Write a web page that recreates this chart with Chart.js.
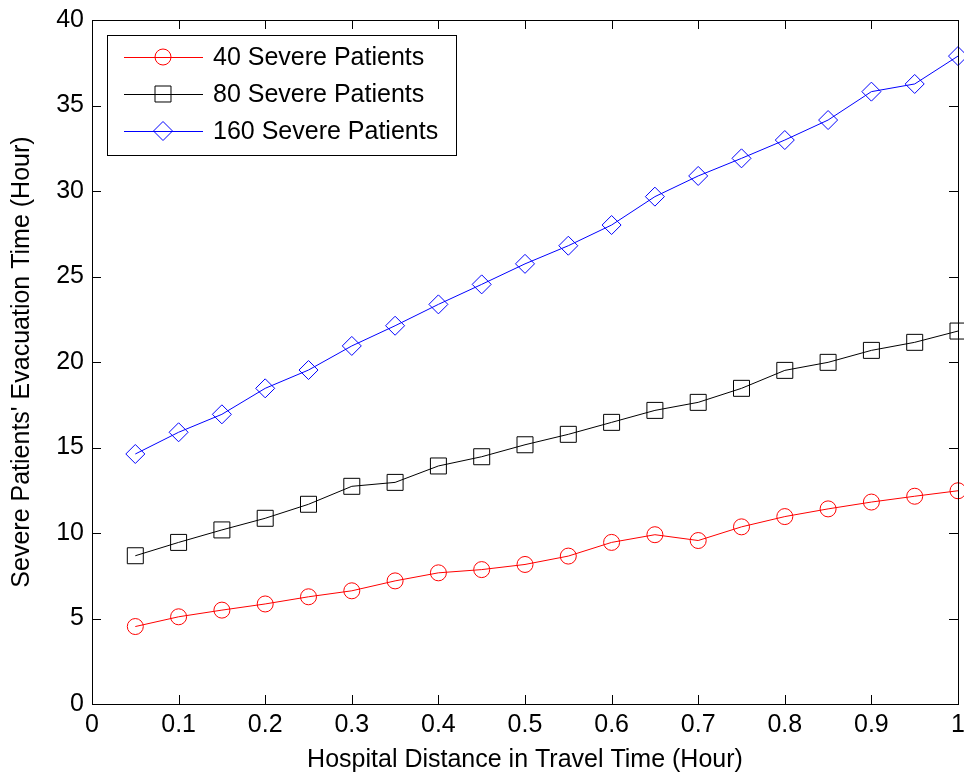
<!DOCTYPE html>
<html>
<head>
<meta charset="utf-8">
<script src="https://cdn.jsdelivr.net/npm/chart.js@4/dist/chart.umd.min.js"></script>
<style>
  html, body { margin: 0; padding: 0; background: #fff; }
  #wrap { width: 964px; height: 773px; }
</style>
</head>
<body>
<div id="wrap"><canvas id="grafico" width="964" height="773"></canvas></div>
<script>
// valores
const distancias = [0.05, 0.1, 0.15, 0.2, 0.25, 0.3, 0.35, 0.4, 0.45, 0.5,
                    0.55, 0.6, 0.65, 0.7, 0.75, 0.8, 0.85, 0.9, 0.95, 1.0];
const pacientes40 = [4.53, 5.1, 5.49, 5.85, 6.27, 6.62, 7.2, 7.67, 7.86, 8.16,
                     8.65, 9.45, 9.9, 9.56, 10.36, 10.96, 11.41, 11.81, 12.15, 12.47];
const pacientes80 = [8.67, 9.45, 10.18, 10.86, 11.68, 12.73, 12.96, 13.92, 14.46, 15.16,
                     15.77, 16.47, 17.17, 17.64, 18.46, 19.51, 19.98, 20.68, 21.15, 21.81];
const pacientes160 = [14.62, 15.89, 16.94, 18.46, 19.53, 20.94, 22.12, 23.37, 24.54, 25.74,
                      26.8, 28.01, 29.67, 30.88, 31.91, 32.98, 34.15, 35.81, 36.26, 37.89];
const rotulosX = ['0', '0.1', '0.2', '0.3', '0.4', '0.5', '0.6', '0.7', '0.8', '0.9', '1'];
const rotulosY = ['0', '5', '10', '15', '20', '25', '30', '35', '40'];
const nomesSeries = ['40 Severe Patients', '80 Severe Patients', '160 Severe Patients'];

const fonte = "'Liberation Sans', Arial, Helvetica, sans-serif";

function pontos(valores) {
  return distancias.map((d, i) => ({ x: d, y: valores[i] }));
}

function serie(nome, valores, cor, estilo, raio) {
  return {
    label: nome,
    data: pontos(valores),
    borderColor: cor,
    borderWidth: 1,
    pointStyle: estilo,
    pointRadius: raio,
    pointHoverRadius: raio,
    pointBorderColor: cor,
    pointBackgroundColor: 'rgba(0,0,0,0)',
    pointBorderWidth: 1,
    tension: 0,
    fill: false,
    clip: false
  };
}

// moldura da caixa e ticks para dentro (estilo matlab)
const caixaEixos = {
  id: 'caixaEixos',
  afterDatasetsDraw(chart) {
    const { ctx, chartArea: a, scales } = chart;
    ctx.save();
    ctx.strokeStyle = '#000';
    ctx.lineWidth = 1;
    ctx.strokeRect(a.left + 0.5, a.top + 0.5, a.right - a.left, a.bottom - a.top);
    const tam = 9;
    ctx.beginPath();
    scales.x.ticks.forEach(t => {
      const px = Math.round(scales.x.getPixelForValue(t.value)) + 0.5;
      ctx.moveTo(px, a.bottom); ctx.lineTo(px, a.bottom - tam);
      ctx.moveTo(px, a.top); ctx.lineTo(px, a.top + tam);
    });
    scales.y.ticks.forEach(t => {
      const py = Math.round(scales.y.getPixelForValue(t.value)) + 0.5;
      ctx.moveTo(a.left, py); ctx.lineTo(a.left + tam, py);
      ctx.moveTo(a.right, py); ctx.lineTo(a.right - tam, py);
    });
    ctx.stroke();
    ctx.restore();
  }
};

// legenda desenhada dentro da area do grafico
const legendaInterna = {
  id: 'legendaInterna',
  afterDraw(chart) {
    const { ctx, chartArea: a } = chart;
    const x0 = a.left + 15, y0 = a.top + 15;
    const larg = 349, alt = 120;
    ctx.save();
    ctx.fillStyle = '#fff';
    ctx.fillRect(x0, y0, larg, alt);
    ctx.strokeStyle = '#000';
    ctx.lineWidth = 1;
    ctx.strokeRect(x0 + 0.5, y0 + 0.5, larg, alt);
    chart.data.datasets.forEach((ds, i) => {
      const yy = y0 + 22 + i * 37;
      ctx.strokeStyle = ds.borderColor;
      ctx.lineWidth = 1;
      ctx.beginPath();
      ctx.moveTo(x0 + 17, yy + 0.5);
      ctx.lineTo(x0 + 96, yy + 0.5);
      ctx.stroke();
      ctx.fillStyle = 'rgba(0,0,0,0)';
      Chart.helpers.drawPoint(ctx, {
        pointStyle: ds.pointStyle,
        radius: ds.pointRadius,
        borderWidth: 1,
        rotation: 0
      }, x0 + 56, yy);
      ctx.fillStyle = '#000';
      ctx.font = '25px ' + fonte;
      ctx.textBaseline = 'middle';
      ctx.textAlign = 'left';
      ctx.fillText(ds.label, x0 + 106, yy + 1);
    });
    ctx.restore();
  }
};

new Chart(document.getElementById('grafico'), {
  type: 'line',
  data: {
    datasets: [
      serie(nomesSeries[0], pacientes40, '#ff0000', 'circle', 8),
      serie(nomesSeries[1], pacientes80, '#000000', 'rect', 11.3),
      serie(nomesSeries[2], pacientes160, '#0000ff', 'rectRot', 9.5)
    ]
  },
  options: {
    responsive: false,
    animation: false,
    events: [],
    layout: { autoPadding: false, padding: { left: 0, right: 6, top: 20, bottom: 0 } },
    plugins: {
      legend: { display: false },
      tooltip: { enabled: false }
    },
    scales: {
      x: {
        type: 'linear',
        min: 0,
        max: 1,
        afterFit(s) {
          s.height = 69;
          s.paddingLeft = 0; s.paddingRight = 0;
        },
        afterBuildTicks(s) { s.ticks = rotulosX.map(v => ({ value: Number(v) })); },
        grid: { display: false, drawTicks: false },
        border: { display: false },
        ticks: {
          color: '#000',
          font: { family: fonte, size: 25 },
          padding: 6,
          maxRotation: 0,
          autoSkip: false,
          callback: (v, i) => rotulosX[i]
        },
        title: {
          display: true,
          text: 'Hospital Distance in Travel Time (Hour)',
          color: '#000',
          font: { family: fonte, size: 25, lineHeight: 1 },
          padding: { top: 0, bottom: 0 }
        }
      },
      y: {
        type: 'linear',
        min: 0,
        max: 40,
        afterFit(s) {
          s.width = 92;
          s.paddingTop = 0; s.paddingBottom = 0;
        },
        afterBuildTicks(s) { s.ticks = rotulosY.map(v => ({ value: Number(v) })); },
        grid: { display: false, drawTicks: false },
        border: { display: false },
        ticks: {
          color: '#000',
          font: { family: fonte, size: 25 },
          padding: 8,
          autoSkip: false,
          callback: (v, i) => rotulosY[i]
        },
        title: {
          display: true,
          text: "Severe Patients' Evacuation Time (Hour)",
          color: '#000',
          font: { family: fonte, size: 25, lineHeight: 1.2 },
          padding: { top: 7, bottom: 0 }
        }
      }
    }
  },
  plugins: [caixaEixos, legendaInterna]
});
</script>
</body>
</html>
